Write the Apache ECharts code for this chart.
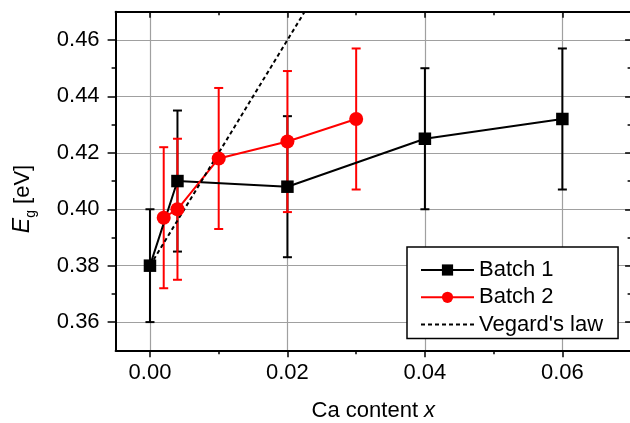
<!DOCTYPE html>
<html>
<head>
<meta charset="utf-8">
<script src="https://cdn.jsdelivr.net/npm/echarts@6/dist/echarts.min.js"></script>
<style>
  html, body { margin: 0; padding: 0; background: #fff; }
  #chart { width: 630px; height: 423px; }
</style>
</head>
<body>
<div id="chart"></div>
<script>
// Band gap vs. Ca content for two sample batches, with the Vegard's law estimate
const caBatch1 = [0.000, 0.004, 0.020, 0.040, 0.060];
const egBatch1 = [0.380, 0.410, 0.408, 0.425, 0.432];
const errBatch1 = [0.020, 0.025, 0.025, 0.025, 0.025];

const caBatch2 = [0.002, 0.004, 0.010, 0.020, 0.030];
const egBatch2 = [0.397, 0.400, 0.418, 0.424, 0.432];
const errBatch2 = [0.025, 0.025, 0.025, 0.025, 0.025];

const caVegard = [0.000, 0.0225];
const egVegard = [0.380, 0.470];

const xMajorTicks = [0.00, 0.02, 0.04, 0.06];
const xMinorTicks = [0.01, 0.03, 0.05];
const yMajorTicks = [0.36, 0.38, 0.40, 0.42, 0.44, 0.46];
const yMinorTicks = [0.37, 0.39, 0.41, 0.43, 0.45];

const FONT = '"Liberation Sans", Arial, sans-serif';
const X_MIN = -0.005, X_MAX = 0.07;
const Y_MIN = 0.35, Y_MAX = 0.47;

const pairs = (xs, ys) => xs.map((x, i) => [x, ys[i]]);
const ranges = (xs, ys, es) => xs.map((x, i) => [x, ys[i] - es[i], ys[i] + es[i]]);

function errorBars(color) {
  return function (params, api) {
    const x = api.value(0);
    const lo = api.coord([x, api.value(1)]);
    const hi = api.coord([x, api.value(2)]);
    const cap = 4.5;
    const style = { stroke: color, lineWidth: 2 };
    return {
      type: 'group',
      children: [
        { type: 'line', shape: { x1: lo[0], y1: lo[1], x2: hi[0], y2: hi[1] }, style },
        { type: 'line', shape: { x1: lo[0] - cap, y1: lo[1], x2: lo[0] + cap, y2: lo[1] }, style },
        { type: 'line', shape: { x1: hi[0] - cap, y1: hi[1], x2: hi[0] + cap, y2: hi[1] }, style }
      ]
    };
  };
}

// One axis per tick set so that major and minor ticks get different lengths
function frameAxis(position, min, max, ticks, len, inside, showLine) {
  return {
    type: 'value', position, min, max,
    axisLine: { show: showLine, onZero: false, lineStyle: { color: '#000', width: 2 } },
    axisTick: { show: true, customValues: ticks, length: len, inside, lineStyle: { color: '#000', width: 1.5 } },
    axisLabel: { show: false },
    splitLine: { show: false }
  };
}

const chart = echarts.init(document.getElementById('chart'), null, { renderer: 'canvas' });

chart.setOption({
  animation: false,
  backgroundColor: '#fff',
  grid: { left: 115.6, top: 11.8, width: 515.5, height: 338.5, outerBoundsMode: 'none' },
  xAxis: [
    {
      type: 'value', position: 'bottom', min: X_MIN, max: X_MAX,
      axisLine: { show: true, onZero: false, lineStyle: { color: '#000', width: 2 } },
      axisTick: { show: true, customValues: xMajorTicks, length: 7, inside: false, lineStyle: { color: '#000', width: 1.5 } },
      axisLabel: { show: true, customValues: xMajorTicks, formatter: v => v.toFixed(2), margin: 12,
                   color: '#000', fontSize: 22, fontFamily: FONT },
      splitLine: { show: true, lineStyle: { color: '#a0a0a0', width: 1.2 } },
      name: 'Ca content {i|x}', nameLocation: 'middle', nameGap: 50,
      nameTextStyle: {
        color: '#000', fontSize: 22, fontFamily: FONT,
        rich: { i: { fontStyle: 'italic', fontSize: 22, fontFamily: FONT, color: '#000' } }
      }
    },
    frameAxis('bottom', X_MIN, X_MAX, xMinorTicks, 4, false, false),
    frameAxis('top', X_MIN, X_MAX, xMajorTicks, 6, true, true),
    frameAxis('top', X_MIN, X_MAX, xMinorTicks, 3.5, true, false)
  ],
  yAxis: [
    {
      type: 'value', position: 'left', min: Y_MIN, max: Y_MAX,
      axisLine: { show: true, onZero: false, lineStyle: { color: '#000', width: 2 } },
      axisTick: { show: true, customValues: yMajorTicks, length: 8, inside: false, lineStyle: { color: '#000', width: 1.5 } },
      axisLabel: { show: true, customValues: yMajorTicks, formatter: v => v.toFixed(2), margin: 16,
                   color: '#000', fontSize: 22, fontFamily: FONT },
      splitLine: { show: true, lineStyle: { color: '#a0a0a0', width: 1.2 } }
    },
    frameAxis('left', Y_MIN, Y_MAX, yMinorTicks, 4, false, false),
    frameAxis('right', Y_MIN, Y_MAX, yMajorTicks, 6, true, true),
    frameAxis('right', Y_MIN, Y_MAX, yMinorTicks, 3.5, true, false)
  ],
  legend: {
    show: true, orient: 'vertical', left: 407, top: 247,
    padding: [12, 15, 3, 13], itemWidth: 53, itemHeight: 14, itemGap: 5.3,
    backgroundColor: '#fff', borderColor: '#000', borderWidth: 1.5, borderRadius: 0,
    selectedMode: false,
    textStyle: { color: '#000', fontSize: 22, fontFamily: FONT },
    data: [
      'Batch 1',
      'Batch 2',
      { name: "Vegard's law", itemStyle: { opacity: 0, color: 'rgba(0,0,0,0)', borderWidth: 0 } }
    ]
  },
  graphic: [{
    type: 'text', x: 23, y: 199, rotation: Math.PI / 2,
    style: {
      text: '{i|E}{s|g} [eV]',
      fontSize: 22, fontFamily: FONT, fill: '#000',
      align: 'center', verticalAlign: 'middle',
      rich: {
        i: { fontStyle: 'italic', fontSize: 23, fontFamily: FONT, lineHeight: 30, verticalAlign: 'middle' },
        s: { fontSize: 14, fontFamily: FONT, lineHeight: 30, verticalAlign: 'bottom' }
      }
    }
  }],
  series: [
    {
      type: 'custom', name: 'Batch 1 error', xAxisIndex: 0, yAxisIndex: 0,
      data: ranges(caBatch1, egBatch1, errBatch1),
      encode: { x: 0, y: [1, 2] },
      renderItem: errorBars('#000')
    },
    {
      type: 'line', name: 'Batch 1', xAxisIndex: 0, yAxisIndex: 0,
      data: pairs(caBatch1, egBatch1),
      symbol: 'rect', symbolSize: 12.5,
      lineStyle: { color: '#000', width: 2 },
      itemStyle: { color: '#000' }
    },
    {
      type: 'custom', name: 'Batch 2 error', xAxisIndex: 0, yAxisIndex: 0,
      data: ranges(caBatch2, egBatch2, errBatch2),
      encode: { x: 0, y: [1, 2] },
      renderItem: errorBars('#ff0000')
    },
    {
      type: 'line', name: 'Batch 2', xAxisIndex: 0, yAxisIndex: 0,
      data: pairs(caBatch2, egBatch2),
      symbol: 'circle', symbolSize: 14,
      lineStyle: { color: '#ff0000', width: 2 },
      itemStyle: { color: '#ff0000' }
    },
    {
      type: 'line', name: "Vegard's law", xAxisIndex: 0, yAxisIndex: 0,
      data: pairs(caVegard, egVegard),
      symbol: 'none', clip: true,
      lineStyle: { color: '#000', width: 2, type: [4, 3] },
      itemStyle: { color: '#000' }
    }
  ]
});
</script>
</body>
</html>
